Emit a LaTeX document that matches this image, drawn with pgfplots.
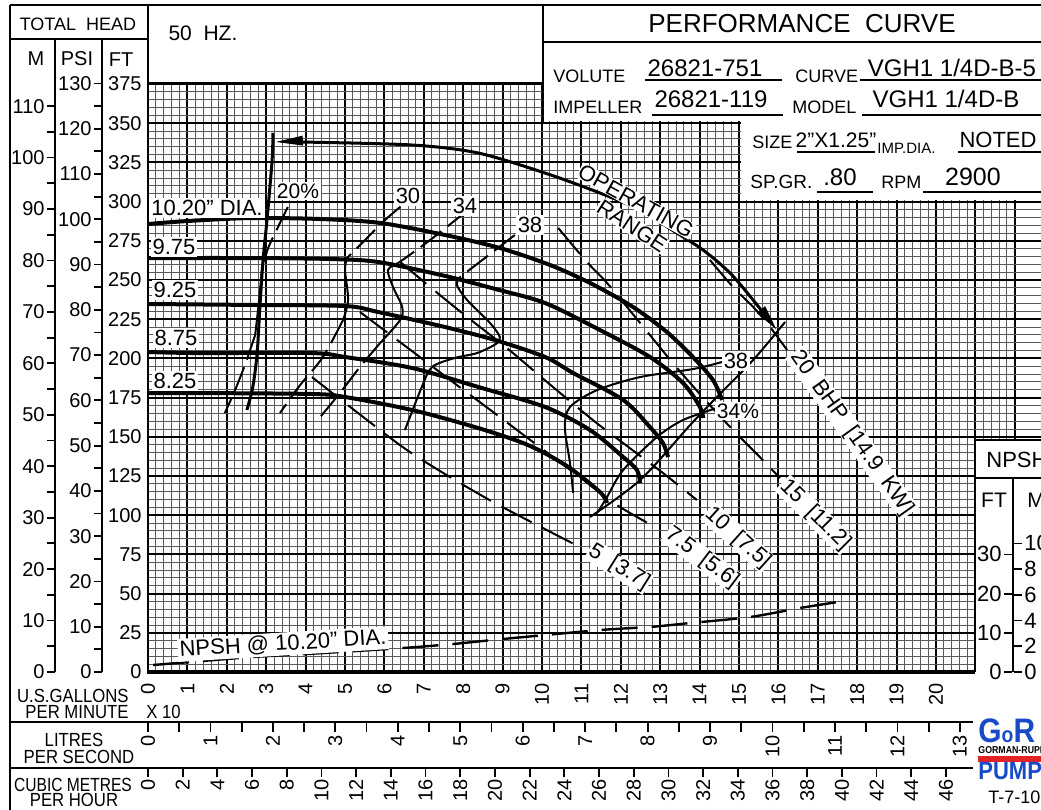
\documentclass[border=0pt]{standalone}
\usepackage{fontspec}
\setmainfont{Liberation Sans}
\usepackage{pgfplots}
\pgfplotsset{compat=1.18}
\usetikzlibrary{arrows.meta}
\newcommand{\fs}[1]{\fontsize{#1}{#1}\selectfont}
\newcommand{\nr}[1]{\scalebox{0.88}[1]{#1}}
\definecolor{grblue}{RGB}{25,75,200}
\definecolor{grred}{RGB}{225,35,35}
\pgfplotsset{
  head/.style={black, line width=2pt, smooth, no markers},
  eff/.style={black, line width=1pt, smooth, no markers},
  effd/.style={eff, dash pattern=on 13pt off 4pt},
  bhp/.style={black, line width=1pt, smooth, no markers, dash pattern=on 17pt off 6pt},
  scaleax/.style={scale only axis, axis line style={draw=none},
     tick style={black, line width=0.9pt}, tick align=outside,
     major tick length=4pt, minor tick length=4pt,
     /pgf/number format/assume math mode=true,
     tick label style={font=\fs{10}}},
}
\begin{document}
\begin{tikzpicture}
\useasboundingbox (0,0) rectangle (520.5pt,-405pt);
\clip (0,0) rectangle (520.5pt,-405pt);
\fill[white] (0,0) rectangle (520.5pt,-405pt);

% ---------------- main chart ----------------
\begin{axis}[
  at={(74pt,-336pt)}, anchor=south west,
  scale only axis, width=446.5pt, height=294.5pt,
  xmin=0, xmax=22.665, ymin=0, ymax=375.64,
  xtick={0,1,...,22},
  xticklabels={0,1,2,3,4,5,6,7,8,9,10,11,12,13,14,15,16,17,18,19,20,{},{}},
  ytick={0,25,...,375},
  minor x tick num=4, minor y tick num=4,
  grid=both,
  major grid style={black, line width=0.95pt},
  minor grid style={black!65, line width=0.45pt},
  major tick length=0pt, minor tick length=0pt,
  axis line style={draw=none},
  /pgf/number format/assume math mode=true,
  tick label style={font=\fs{10}},
  xticklabel style={rotate=90, anchor=east, inner sep=5.5pt},
  yticklabel style={inner sep=3pt},
]
% head-capacity curves
\addplot[head] coordinates {(0,285.7) (0.99,287.6) (2.59,289.5) (4.37,288.9) (5.89,286.4) (7.54,278.7) (8.93,270.4) (10.2,259.6) (11.22,248.1) (12.31,232.8) (13.17,216.8) (13.83,200.9) (14.34,186.2) (14.57,173.5)};
\addplot[head] coordinates {(0,264.0) (2.59,264.0) (4.62,263.4) (5.84,261.5) (7.54,252.6) (8.81,244.3) (10.08,235.3) (11.47,218.1) (12.74,200.9) (13.58,184.3) (14.01,169.0) (14.09,162.0)};
\addplot[head] coordinates {(0,234.7) (2.59,234.1) (5.0,233.4) (5.84,229.6) (7.54,220.0) (8.81,211.7) (10.08,200.9) (10.79,190.7) (12.06,173.5) (12.74,156.2) (13.07,146.0) (13.2,137.1)};
\addplot[head] coordinates {(0,204.1) (1.27,203.4) (4.16,203.4) (5.0,200.9) (6.7,193.9) (8.38,181.8) (10.08,169.0) (11.22,154.3) (12.06,137.1) (12.41,128.8) (12.49,120.5)};
\addplot[head] coordinates {(0,177.9) (1.27,177.9) (4.16,177.3) (5.0,175.4) (6.7,167.1) (8.38,155.6) (9.64,144.8) (10.63,131.4) (11.47,114.8) (11.65,107.8)};
% operating range
\addplot[black, line width=1.5pt, smooth, {Triangle[length=14pt,width=4.5pt]}-{Triangle[length=13pt,width=5pt]}] coordinates {(3.22,338.0) (3.91,338.0) (6.70,336.1) (8.38,331.0) (10.08,318.2) (11.47,305.5) (12.49,294.6) (13.30,281.9) (14.09,269.1) (14.77,254.5) (15.36,237.2) (15.96,218.1)};
\addplot[black, line width=1.5pt, smooth] coordinates {(3.17,343.8) (3.15,326.5) (3.02,288.3) (2.92,262.8) (2.84,232.8) (2.77,203.4) (2.66,181.8) (2.51,167.1)};
% efficiency 20
\addplot[effd] coordinates {(3.55,296.6) (3.30,283.8) (3.05,270.4) (2.89,256.4)};
\addplot[eff] coordinates {(2.89,256.4) (2.82,237.2) (2.72,214.9)};
\addplot[effd] coordinates {(2.72,214.9) (2.46,195.8) (2.21,179.8) (1.95,165.2)};
% efficiency 30
\addplot[effd] coordinates {(6.40,296.6) (5.96,287.0) (5.51,275.5) (5.05,264.0)};
\addplot[eff] coordinates {(5.05,264.0) (5.0,256.4) (5.08,237.2) (4.95,224.5)};
\addplot[effd] coordinates {(4.95,224.5) (4.44,200.9) (3.86,183.0) (3.35,165.2)};
% efficiency 34 left
\addplot[effd] coordinates {(8.12,294.6) (7.16,275.5) (6.35,260.8)};
\addplot[eff] coordinates {(6.35,260.8) (6.09,256.4) (6.22,245.5) (6.45,232.8) (6.40,224.5) (5.89,209.8)};
\addplot[effd] coordinates {(5.89,209.8) (5.38,194.5) (4.87,177.9) (4.37,162.6)};
% efficiency 38 left
\addplot[effd] coordinates {(9.31,278.7) (8.55,264.0) (7.92,251.9)};
\addplot[eff] coordinates {(7.92,251.9) (7.84,246.8) (8.10,237.2) (8.68,222.6) (8.93,213.6) (8.83,209.2) (8.35,203.4) (7.79,200.3) (7.21,194.5) (6.95,181.8) (6.52,154.3)};
% efficiency 38 / 34 right
\addplot[eff] coordinates {(14.57,197.7) (13.83,193.2) (12.49,188.1) (11.40,179.8) (10.71,169.0) (10.58,156.2) (10.71,133.3) (10.79,114.2)};
\addplot[eff] coordinates {(14.44,168.4) (13.58,160.7) (12.92,149.9) (12.06,128.8) (11.65,111.6) (11.42,102.0)};
% run-out line
\addplot[eff] coordinates {(16.17,223.2) (15.36,199.0) (14.44,175.4) (13.76,157.5) (12.49,122.4) (11.22,98.9)};
% BHP lines
\addplot[bhp] coordinates {(4.16,188.1) (5.56,160.7) (6.57,141.6) (7.66,124.4) (8.76,108.4) (9.87,93.8) (10.96,79.7)};
\addplot[bhp] coordinates {(5.38,229.6) (6.83,202.2) (7.84,183.0) (8.86,163.9) (9.87,144.8) (10.89,125.6) (11.90,106.5) (12.87,92.5)};
\addplot[bhp] coordinates {(6.40,261.5) (7.41,240.4) (8.10,226.4) (9.11,206.6) (10.13,184.9) (11.29,160.7) (12.06,146.0) (13.07,126.9) (13.93,109.7)};
\addplot[bhp] coordinates {(10.41,283.2) (11.14,261.5) (11.65,248.1) (12.49,222.6) (13.32,197.1) (14.14,173.5) (14.85,154.3) (15.53,137.1) (16.04,123.7)};
\addplot[bhp] coordinates {(14.26,262.8) (14.85,245.5) (15.36,232.8) (15.71,222.6) (16.22,205.4)};
% NPSH (ft, drawn on head grid at 2.5x)
\addplot[black, line width=1.2pt, smooth, dash pattern=on 18pt off 7pt, y filter/.expression={2.5*y}] coordinates {(0.13,1.79) (1.07,2.55) (2.66,3.83) (4.04,4.59) (4.87,5.10) (6.47,6.12) (7.74,7.14) (9.01,8.42) (11.47,10.7) (12.74,11.48) (13.76,12.5) (15.28,14.03) (16.55,16.33) (17.51,17.86)};
\end{axis}

% ---------------- M scale ----------------
\begin{axis}[scaleax, at={(27.5pt,-336pt)}, anchor=south west, width=1pt, height=294.5pt,
  xmin=0, xmax=1, ymin=0, ymax=114.495, hide x axis,
  ytick={0,10,...,110}, minor ytick={5,15,...,115}, ytick pos=left,
  yticklabel style={inner sep=1pt}]
\addplot[draw=none] coordinates {(0,0)};
\end{axis}
% ---------------- PSI scale ----------------
\begin{axis}[scaleax, at={(51pt,-336pt)}, anchor=south west, width=1pt, height=294.5pt,
  xmin=0, xmax=1, ymin=0, ymax=130.09, hide x axis,
  ytick={0,10,...,130}, minor ytick={5,15,...,125}, ytick pos=left,
  yticklabel style={inner sep=1pt}]
\addplot[draw=none] coordinates {(0,0)};
\end{axis}
% ---------------- litres per second ----------------
\begin{axis}[scaleax, at={(74pt,-361pt)}, anchor=south west, width=446.5pt, height=1pt,
  xmin=0, xmax=14.2995, ymin=0, ymax=1, hide y axis,
  xtick={0,1,...,13}, minor xtick={0.5,1.5,...,12.5}, xtick pos=left,
  major tick length=5pt, minor tick length=5pt,
  xticklabel style={rotate=90, anchor=east, inner sep=1.5pt}]
\addplot[draw=none] coordinates {(0,0)};
\end{axis}
% ---------------- cubic metres per hour ----------------
\begin{axis}[scaleax, at={(74pt,-384pt)}, anchor=south west, width=446.5pt, height=1pt,
  xmin=0, xmax=51.477, ymin=0, ymax=1, hide y axis,
  xtick={0,2,...,46}, xtick pos=left,
  major tick length=4.5pt,
  xticklabel style={rotate=90, anchor=east, inner sep=1pt}]
\addplot[draw=none] coordinates {(0,0)};
\end{axis}

% ---------------- frame, boxes, text ----------------
\begin{scope}[x=0.5pt,y=-0.5pt]
\fill[white] (543.5,0) rectangle (1045,121);
\fill[white] (741,121) rectangle (1045,200);
\fill[white] (975,440) rectangle (1045,714);
% frame lines
\draw[line width=1.4pt] (10,5) -- (1045,5);
\draw[line width=1.4pt] (10,5) -- (10,815);
\draw[line width=1.4pt] (148,5) -- (148,673);
\draw[line width=1.4pt] (10,39) -- (148,39);
\draw[line width=1.2pt] (55,39) -- (55,672);
\draw[line width=1.2pt] (102,39) -- (102,672);
\draw[line width=1.4pt] (148,83) -- (543,83);
\draw[line width=1.4pt] (543,5) -- (543,122);
\draw[line width=1.4pt] (543,42) -- (1045,42);
\draw[line width=1.6pt] (147,672) -- (975,672);
\draw[line width=1.4pt] (975,440) -- (975,672);
\draw[line width=1.4pt] (975,440) -- (1045,440);
\draw[line width=1.2pt] (975,478) -- (1045,478);
\draw[line width=1.2pt] (1013,478) -- (1013,672);
\draw[line width=1.4pt] (10,722) -- (973,722);
\draw[line width=1.4pt] (10,768) -- (973,768);
% underlines
\draw[line width=0.8pt] (645,80) -- (782,80);
\draw[line width=0.8pt] (860,80) -- (1045,80);
\draw[line width=0.8pt] (652,115) -- (783,115);
\draw[line width=0.8pt] (862,115) -- (1045,115);
\draw[line width=0.8pt] (797,152) -- (875,152);
\draw[line width=0.8pt] (958,152) -- (1045,152);
\draw[line width=0.8pt] (817,192) -- (873,192);
\draw[line width=0.8pt] (923,192) -- (1045,192);
% header texts
\node[font=\fs{9}] at (78,24) {TOTAL\ \ HEAD};
\node[font=\fs{10.5}] at (203,33) {50\ \ HZ.};
\node[font=\fs{10}] at (36,59) {M};
\node[font=\fs{10}] at (77,59) {PSI};
\node[font=\fs{10}] at (121,60) {FT};
\node[font=\fs{13}] at (802,24) {PERFORMANCE\ \ CURVE};
\node[anchor=base west, inner sep=0, font=\fs{9}] at (553,82) {VOLUTE};
\node[anchor=base, inner sep=0, font=\fs{12}] at (705,76) {26821-751};
\node[anchor=base west, inner sep=0, font=\fs{9}] at (795,82) {CURVE};
\node[anchor=base, inner sep=0, font=\fs{12}] at (952,76) {VGH1 1/4D-B-5};
\node[anchor=base west, inner sep=0, font=\fs{9}] at (553,113) {IMPELLER};
\node[anchor=base, inner sep=0, font=\fs{12}] at (711,107) {26821-119};
\node[anchor=base west, inner sep=0, font=\fs{9}] at (792,113) {MODEL};
\node[anchor=base, inner sep=0, font=\fs{12}] at (946,107) {VGH1 1/4D-B};
\node[anchor=base west, inner sep=0, font=\fs{9}] at (752,148) {SIZE};
\node[anchor=base, inner sep=0, font=\fs{10.5}] at (836,147) {2"X1.25"};
\node[anchor=base west, inner sep=0, font=\fs{7.5}] at (877,153) {IMP.DIA.};
\node[anchor=base, inner sep=0, font=\fs{11}] at (998,147) {NOTED};
\node[anchor=base west, inner sep=0, font=\fs{9.5}] at (750,188) {SP.GR.};
\node[anchor=base, inner sep=0, font=\fs{12}] at (840,185) {.80};
\node[anchor=base west, inner sep=0, font=\fs{9}] at (881,188) {RPM};
\node[anchor=base, inner sep=0, font=\fs{12.5}] at (973,185) {2900};
% curve labels
\tikzset{lab/.style={fill=white, inner sep=1pt, font=\fs{11}}}
\node[lab] at (207,208) {10.20" DIA.};
\node[lab] at (174,247) {9.75};
\node[lab] at (175,290) {9.25};
\node[lab] at (176,338) {8.75};
\node[lab] at (175,381) {8.25};
\node[lab, font=\fs{10.5}] at (298,191) {20\%};
\node[lab] at (408,196) {30};
\node[lab] at (465,206) {34};
\node[lab] at (530,225) {38};
\node[lab] at (736,361) {38};
\node[lab, font=\fs{10.5}] at (738,411) {34\%};
\node[lab, font=\fs{11}, rotate=-29, inner sep=0.3pt] at (636,201) {OPERATING};
\node[lab, font=\fs{11}, rotate=-33, inner sep=0.3pt] at (632,226) {RANGE};
\node[lab, inner sep=0.5pt, rotate=-54.5] at (852,433) {20\ \ BHP\ \ [14.9\ \ KW]};
\node[lab, inner sep=0.5pt, rotate=-45] at (815,515) {15\ \ [11.2]};
\node[lab, inner sep=0.5pt, rotate=-42] at (738,538) {10\ \ [7.5]};
\node[lab, inner sep=0.5pt, rotate=-37] at (702,558) {7.5\ \ [5.6]};
\node[lab, inner sep=0.5pt, rotate=-32] at (619,567) {5\ \ [3.7]};
\node[lab, rotate=3.5] at (283,644) {NPSH\ @\ 10.20" DIA.};
% NPSH box
\node[anchor=west, inner sep=0, font=\fs{11}] at (986,460) {NPSH};
\node[font=\fs{10.5}] at (994,500) {FT};
\node[font=\fs{10.5}, anchor=west, inner sep=0] at (1027,500) {M};
% bottom-left axis titles
\node[anchor=east, inner sep=0, font=\fs{9.5}] at (129,696) {\nr{U.S.GALLONS}};
\node[anchor=east, inner sep=0, font=\fs{9.5}] at (129,712) {\nr{PER MINUTE}};
\node[anchor=west, inner sep=0, font=\fs{9.5}] at (146,712) {\nr{X 10}};
\node[inner sep=0, font=\fs{9.5}] at (74,740) {\nr{LITRES}};
\node[inner sep=0, font=\fs{9.5}] at (79,757) {\nr{PER SECOND}};
\node[inner sep=0, font=\fs{9.5}] at (73,785) {\scalebox{0.82}[1]{CUBIC METRES}};
\node[inner sep=0, font=\fs{9.5}] at (74,800) {\nr{PER HOUR}};
% logo
\node[anchor=west, inner sep=0, text=grblue, font=\fs{17}\bfseries] at (978,731) {\nr{G{\fs{11}o}R}};
\node[anchor=west, inner sep=0, font=\fs{5}\bfseries] at (978,750) {\nr{GORMAN-RUPP}};
\fill[grred] (978,756) rectangle (1045,762);
\node[anchor=west, inner sep=0, text=grblue, font=\fs{12.5}\bfseries] at (978,771) {\nr{PUMPS}};
\node[anchor=west, inner sep=0, font=\fs{9}] at (988,797) {T-7-10};
\end{scope}

% NPSH scales (drawn last, on the white box)
\begin{axis}[scaleax, at={(506pt,-336pt)}, anchor=south west, width=1pt, height=294.5pt,
  xmin=0, xmax=1, ymin=0, ymax=150.256, hide x axis,
  ytick={0,10,20,30}, ytick pos=left, tick label style={font=\fs{11}},
  yticklabel style={inner sep=1pt}]
\addplot[draw=none] coordinates {(0,0)};
\end{axis}
\begin{axis}[scaleax, at={(506pt,-336pt)}, anchor=south west, width=1pt, height=294.5pt,
  xmin=0, xmax=1, ymin=0, ymax=45.798, hide x axis,
  ytick={0,2,...,10}, ytick pos=right, yticklabel pos=right, tick label style={font=\fs{11}},
  yticklabel style={inner sep=1pt}]
\addplot[draw=none] coordinates {(0,0)};
\end{axis}
\end{tikzpicture}
\end{document}
